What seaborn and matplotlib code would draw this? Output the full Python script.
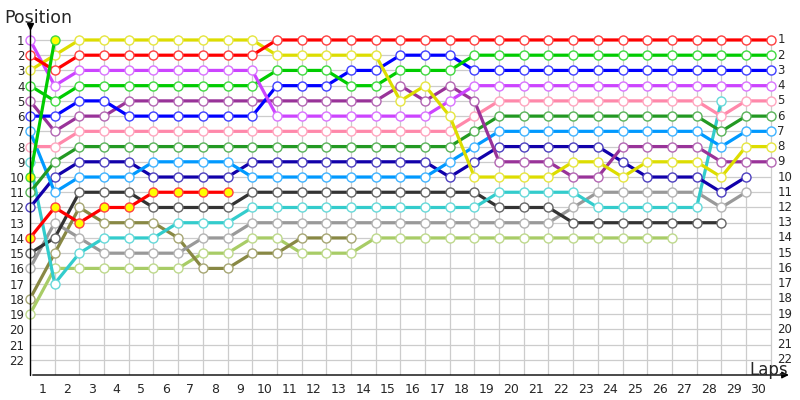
import matplotlib
matplotlib.use("Agg")
import matplotlib.pyplot as plt
import seaborn as sns
import pandas as pd
from matplotlib.colors import to_rgb

# ---------------- data (positions per lap, lap 0 = start grid) ----------------
lap_labels = [str(k) for k in range(1, 31)]
position_labels = [str(p) for p in range(1, 23)]

red = [2, 3, 2, 2, 2, 2, 2, 2, 2, 2, 1, 1, 1, 1, 1, 1, 1, 1, 1, 1, 1, 1, 1, 1, 1, 1, 1, 1, 1, 1, 1]
yellow = [3, 2, 1, 1, 1, 1, 1, 1, 1, 1, 2, 2, 2, 2, 2, 5, 4, 6, 10, 10, 10, 10, 9, 9, 10, 9, 9, 9, 10, 8, 8]
violet = [1, 4, 3, 3, 3, 3, 3, 3, 3, 3, 6, 6, 6, 6, 6, 6, 6, 5, 4, 4, 4, 4, 4, 4, 4, 4, 4, 4, 4, 4, 4]
green = [4, 5, 4, 4, 4, 4, 4, 4, 4, 4, 3, 3, 3, 4, 4, 3, 3, 3, 2, 2, 2, 2, 2, 2, 2, 2, 2, 2, 2, 2, 2]
blue = [6, 6, 5, 5, 6, 6, 6, 6, 6, 6, 4, 4, 4, 3, 3, 2, 2, 2, 3, 3, 3, 3, 3, 3, 3, 3, 3, 3, 3, 3, 3]
purple = [5, 7, 6, 6, 5, 5, 5, 5, 5, 5, 5, 5, 5, 5, 5, 4, 5, 4, 5, 9, 9, 9, 10, 10, 8, 8, 8, 8, 9, 9, 9]
pink = [8, 8, 7, 7, 7, 7, 7, 7, 7, 7, 7, 7, 7, 7, 7, 7, 7, 7, 6, 5, 5, 5, 5, 5, 5, 5, 5, 5, 6, 5, 5]
darkgreen = [11, 9, 8, 8, 8, 8, 8, 8, 8, 8, 8, 8, 8, 8, 8, 8, 8, 8, 7, 6, 6, 6, 6, 6, 6, 6, 6, 6, 7, 6, 6]
lightblue = [7, 11, 10, 10, 10, 9, 9, 9, 9, 10, 10, 10, 10, 10, 10, 10, 10, 9, 8, 7, 7, 7, 7, 7, 7, 7, 7, 7, 8, 7, 7]
navy = [12, 10, 9, 9, 9, 10, 10, 10, 10, 9, 9, 9, 9, 9, 9, 9, 9, 10, 9, 8, 8, 8, 8, 8, 9, 10, 10, 10, 11, 10]
cyan = [9, 17, 15, 14, 14, 14, 13, 13, 13, 12, 12, 12, 12, 12, 12, 12, 12, 12, 12, 11, 11, 11, 11, 12, 12, 12, 12, 12, 5]
darkgray = [15, 14, 11, 11, 11, 12, 12, 12, 12, 11, 11, 11, 11, 11, 11, 11, 11, 11, 11, 12, 12, 12, 13, 13, 13, 13, 13, 13, 13]
lightgray = [16, 13, 14, 15, 15, 15, 15, 14, 14, 13, 13, 13, 13, 13, 13, 13, 13, 13, 13, 13, 13, 13, 12, 11, 11, 11, 11, 11, 12, 11]
olive = [18, 15, 12, 13, 13, 13, 14, 16, 16, 15, 15, 14, 14, 14]
lightgreen = [19, 16, 16, 16, 16, 16, 16, 15, 15, 14, 14, 15, 15, 15, 14, 14, 14, 14, 14, 14, 14, 14, 14, 14, 14, 14, 14]
red2 = [14, 12, 13, 12, 12, 11, 11, 11, 11]
green2 = [10, 1]

# (values, line colour, marker face)
series = [
    (lightgreen, "#a8cc66", "white"),
    (olive, "#888844", "white"),
    (lightgray, "#999999", "white"),
    (darkgray, "#333333", "white"),
    (cyan, "#33cccc", "white"),
    (navy, "#1100aa", "white"),
    (lightblue, "#0099ff", "white"),
    (darkgreen, "#229922", "white"),
    (pink, "#ff88aa", "white"),
    (purple, "#993399", "white"),
    (blue, "#0000ff", "white"),
    (green, "#00cc00", "white"),
    (violet, "#cc44ff", "white"),
    (yellow, "#dddd00", "white"),
    (red, "#ff0000", "white"),
    (red2, "#ff0000", "#ffff00"),
    (green2, "#00cc00", "#ffff00"),
]


def lighten(c, f=0.3):
    r, g, b = to_rgb(c)
    return (r + (1 - r) * f, g + (1 - g) * f, b + (1 - b) * f)


sns.set_style("white")
plt.rcParams["font.family"] = ["DejaVu Sans"]

fig = plt.figure(figsize=(8, 4), dpi=100)
ax = fig.add_axes([30 / 800, 25 / 400, 755.5 / 800, 339.6 / 400])
ax.set_xlim(0, 30.6)
ax.set_ylim(23, 0.7)

# grid
ax.vlines(range(0, 31), 0.7, 23, color="#cccccc", lw=0.9, zorder=0)
ax.hlines(range(1, 23), 0, 30, color="#cccccc", lw=0.9, zorder=0)

for vals, col, face in series:
    df = pd.DataFrame({"lap": list(range(len(vals))), "pos": vals})
    sns.lineplot(data=df, x="lap", y="pos", ax=ax, color=col, lw=2.3,
                 marker="o", markersize=6.5, markerfacecolor=face,
                 markeredgecolor=lighten(col, 0.25), markeredgewidth=1.0,
                 legend=False, zorder=3, clip_on=False)

for s in ax.spines.values():
    s.set_visible(False)

# axes lines with arrows
ax.plot([0, 0], [23, 0.0], color="black", lw=1, clip_on=False, zorder=4)
ax.plot([0], [0.05], marker="v", color="black", markersize=4, clip_on=False, zorder=4)
ax.annotate("", xy=(30.85, 23), xytext=(0, 23),
            arrowprops=dict(arrowstyle="-|>", color="black", lw=1, mutation_scale=10),
            annotation_clip=False)

ax.set_xticks([k - 0.5 for k in range(1, 31)])
ax.set_xticklabels(lap_labels, fontsize=9)
ax.set_yticks(range(1, 23))
ax.set_yticklabels(position_labels, fontsize=8.5)
ax.tick_params(axis="x", length=0, pad=6)
ax.tick_params(axis="y", length=0, pad=4)
ax.set_xlabel("")
ax.set_ylabel("")

for p, lab in zip(range(1, 23), position_labels):
    ax.text(30.27, p, lab, va="center", ha="left", fontsize=8.5, clip_on=False)

fig.text(4 / 800, 1 - 18 / 400, "Position", fontsize=12.5, va="center", ha="left")
fig.text(788 / 800, 1 - 370 / 400, "Laps", fontsize=12, va="center", ha="right")

fig.savefig("out.png", dpi=100)
